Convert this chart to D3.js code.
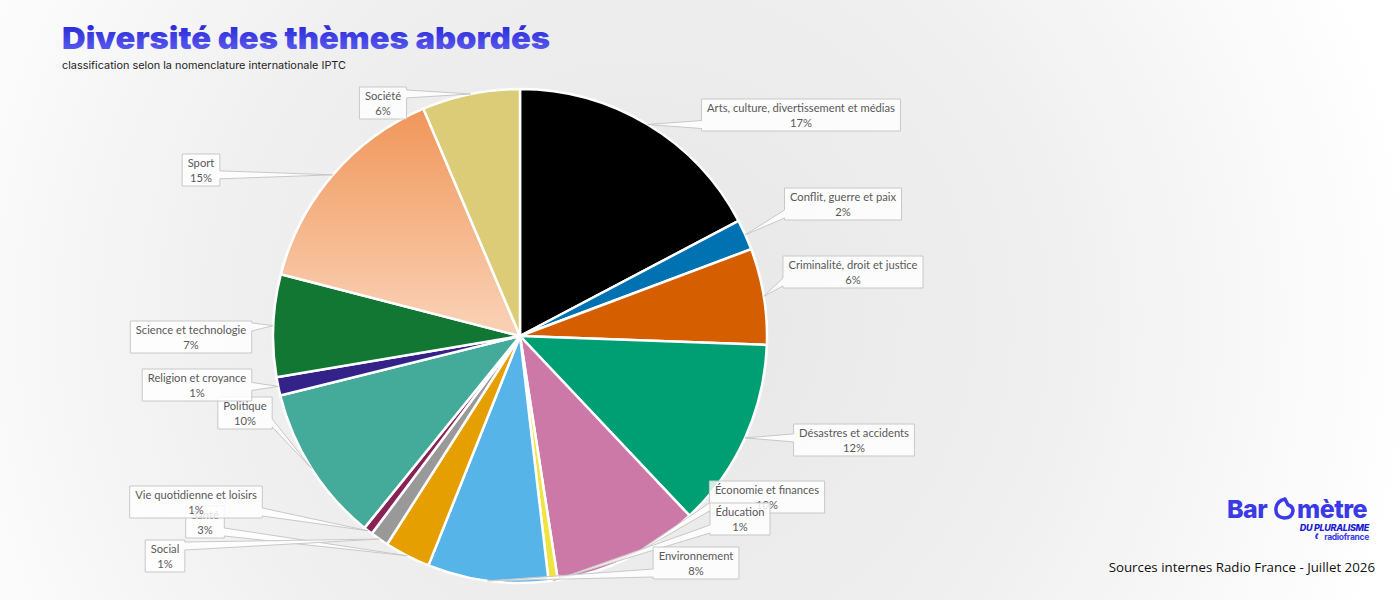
<!DOCTYPE html>
<html>
<head>
<meta charset="utf-8">
<script src="https://cdn.jsdelivr.net/npm/d3@7"></script>
<style>
  html, body { margin: 0; padding: 0; }
  body { width: 1400px; height: 600px; overflow: hidden; }
</style>
</head>
<body>
<svg id="chart" width="1400" height="600"></svg>
<script>
// ---- DATA ----
const categories = [
  "Arts, culture, divertissement et médias",
  "Conflit, guerre et paix",
  "Criminalité, droit et justice",
  "Désastres et accidents",
  "Économie et finances",
  "Éducation",
  "Environnement",
  "Santé",
  "Social",
  "Vie quotidienne et loisirs",
  "Politique",
  "Religion et croyance",
  "Science et technologie",
  "Sport",
  "Société"
];
const values = [17.3, 2.0, 6.3, 12.4, 9.6, 0.6, 7.9, 3.0, 1.2, 0.6, 10.3, 1.2, 6.7, 14.6, 6.4];
const titleText = "Diversité des thèmes abordés";
const subtitleText = "classification selon la nomenclature internationale IPTC";
const sourceText = "Sources internes Radio France - Juillet 2026";

// ---- STYLE / LAYOUT ----
const colors = ["#000000", "#0072B2", "#D55E00", "#009E73", "#CC79A7", "#F0E442", "#56B4E9",
  "#E69F00", "#999999", "#882255", "#44AA99", "#332288", "#117733", "url(#sportGrad)", "#DDCC77"];
const labelCenters = {
  "Arts, culture, divertissement et médias": [801, 115],
  "Conflit, guerre et paix": [843, 204],
  "Criminalité, droit et justice": [853, 272],
  "Désastres et accidents": [854, 440],
  "Économie et finances": [767, 497],
  "Éducation": [740, 519],
  "Environnement": [696, 563],
  "Santé": [205, 522],
  "Social": [165, 556],
  "Vie quotidienne et loisirs": [196, 502],
  "Politique": [245, 413],
  "Religion et croyance": [197, 385],
  "Science et technologie": [191, 337],
  "Sport": [201, 170],
  "Société": [383, 103]
};

const svg = d3.select("#chart");
const defs = svg.append("defs");
const cx = 520, cy = 336, R = 247;

const bg = defs.append("radialGradient").attr("id", "bgGrad")
  .attr("gradientUnits", "userSpaceOnUse").attr("cx", 640).attr("cy", 320).attr("r", 780);
bg.append("stop").attr("offset", "0").attr("stop-color", "#e6e6e6");
bg.append("stop").attr("offset", "0.55").attr("stop-color", "#f0f0f0");
bg.append("stop").attr("offset", "1").attr("stop-color", "#ffffff");

// gradient in the pie group's own coordinates (group is translated to the centre)
const sg = defs.append("linearGradient").attr("id", "sportGrad")
  .attr("gradientUnits", "userSpaceOnUse")
  .attr("x1", 0).attr("y1", 115 - cy).attr("x2", 0).attr("y2", 320 - cy);
sg.append("stop").attr("offset", "0").attr("stop-color", "#F0985C");
sg.append("stop").attr("offset", "1").attr("stop-color", "#F9CFB2");

const tg = defs.append("linearGradient").attr("id", "titleGrad")
  .attr("x1", 0).attr("y1", 0).attr("x2", 0).attr("y2", 1);
tg.append("stop").attr("offset", "0").attr("stop-color", "#2020d4");
tg.append("stop").attr("offset", "1").attr("stop-color", "#6464f3");

svg.append("rect").attr("width", 1400).attr("height", 600).attr("fill", "url(#bgGrad)");

// Title
svg.append("text").attr("x", 62).attr("y", 49)
  .attr("font-family", "Inter, 'DejaVu Sans', sans-serif").attr("font-weight", 900)
  .attr("font-size", 30)
  .attr("textLength", 488).attr("lengthAdjust", "spacingAndGlyphs")
  .attr("fill", "url(#titleGrad)").text(titleText);
svg.append("text").attr("x", 62).attr("y", 69)
  .attr("font-family", "Inter, sans-serif").attr("font-size", 10.5)
  .attr("textLength", 284).attr("lengthAdjust", "spacingAndGlyphs")
  .attr("fill", "#222").text(subtitleText);

// Pie
const pie = d3.pie().sort(null).value(d => d)(values);
const arc = d3.arc().innerRadius(0).outerRadius(R);
const g = svg.append("g").attr("transform", `translate(${cx},${cy})`);
g.selectAll("path").data(pie).join("path")
  .attr("d", arc)
  .attr("fill", (d, i) => colors[i])
  .attr("stroke", "#ffffff").attr("stroke-width", 2.5).attr("stroke-linejoin", "round");

// Labels (callouts)
const lg = svg.append("g");
const font = "Lato, 'Liberation Sans', sans-serif";
pie.forEach((d, i) => {
  const name = categories[i];
  const mid = (d.startAngle + d.endAngle) / 2;
  const tip = [cx + R * Math.sin(mid), cy - R * Math.cos(mid)];
  const [bxC, byC] = labelCenters[name];
  const grp = lg.append("g");
  const path = grp.append("path");
  const t1 = grp.append("text").attr("x", bxC).attr("y", byC - 3)
    .attr("text-anchor", "middle").attr("font-family", font).attr("font-size", 11.2)
    .attr("fill", "#595959").text(name);
  const t2 = grp.append("text").attr("x", bxC).attr("y", byC + 12)
    .attr("text-anchor", "middle").attr("font-family", font).attr("font-size", 11.2)
    .attr("fill", "#595959").text(Math.round(values[i]) + "%");
  const w = Math.max(t1.node().getComputedTextLength(), t2.node().getComputedTextLength()) + 11;
  const h = 32;
  const x0 = bxC - w / 2, x1 = bxC + w / 2, y0 = byC - h / 2, y1 = byC + h / 2;
  const hw = 4;
  const clamp = (v, a, b) => Math.max(a, Math.min(b, v));
  let p;
  if (tip[0] > x1) {
    const m = clamp(tip[1], y0 + hw + 2, y1 - hw - 2);
    p = [[x0, y0], [x1, y0], [x1, m - hw], tip, [x1, m + hw], [x1, y1], [x0, y1]];
  } else if (tip[0] < x0) {
    const m = clamp(tip[1], y0 + hw + 2, y1 - hw - 2);
    p = [[x0, y0], [x1, y0], [x1, y1], [x0, y1], [x0, m + hw], tip, [x0, m - hw]];
  } else if (tip[1] > y1) {
    const m = clamp(tip[0], x0 + hw + 2, x1 - hw - 2);
    p = [[x0, y0], [x1, y0], [x1, y1], [m + hw, y1], tip, [m - hw, y1], [x0, y1]];
  } else {
    const m = clamp(tip[0], x0 + hw + 2, x1 - hw - 2);
    p = [[x0, y0], [m - hw, y0], tip, [m + hw, y0], [x1, y0], [x1, y1], [x0, y1]];
  }
  path.attr("d", "M" + p.map(q => q.join(",")).join("L") + "Z")
    .attr("fill", "#ffffff").attr("fill-opacity", 0.82)
    .attr("stroke", "#c8c8c8").attr("stroke-width", 1);
});

// Logo
const logo = svg.append("g");
const logoBlue = "#3a3ae6";
logo.append("text").attr("x", 1227).attr("y", 518)
  .attr("font-family", "Inter, sans-serif").attr("font-weight", 800).attr("font-size", 25)
  .attr("letter-spacing", "-0.5").attr("fill", logoBlue).text("Bar");
logo.append("path")
  .attr("d", "M1285,499 q-8,2 -9,9 q-1,9 8,10 q8,0 9,-7 q0,-5 -5,-6 l-3,-6 z")
  .attr("fill", "none").attr("stroke", logoBlue).attr("stroke-width", 3.5).attr("stroke-linejoin", "round");
logo.append("text").attr("x", 1297).attr("y", 518)
  .attr("font-family", "Inter, sans-serif").attr("font-weight", 800).attr("font-size", 25)
  .attr("letter-spacing", "-0.5").attr("fill", logoBlue).text("mètre");
logo.append("text").attr("x", 1369).attr("y", 531).attr("text-anchor", "end")
  .attr("font-family", "Inter, sans-serif").attr("font-weight", 800).attr("font-style", "italic")
  .attr("font-size", 9).attr("letter-spacing", "-0.3").attr("fill", "#1a1ad0").text("DU PLURALISME");
logo.append("text").attr("x", 1369).attr("y", 540).attr("text-anchor", "end")
  .attr("font-family", "Inter, sans-serif").attr("font-weight", 700)
  .attr("font-size", 8.5).attr("letter-spacing", "-0.3").attr("fill", "#3a3ae6").text("radiofrance");
logo.append("path").attr("d", "M1317,533 q-3,3 -1,6 l2,0 q-2,-3 1,-5 z")
  .attr("fill", "#3a3ae6");

// Source
svg.append("text").attr("x", 1375).attr("y", 572).attr("text-anchor", "end")
  .attr("font-family", "'Open Sans', sans-serif").attr("font-size", 13.3)
  .attr("fill", "#111").text(sourceText);
</script>
</body>
</html>
